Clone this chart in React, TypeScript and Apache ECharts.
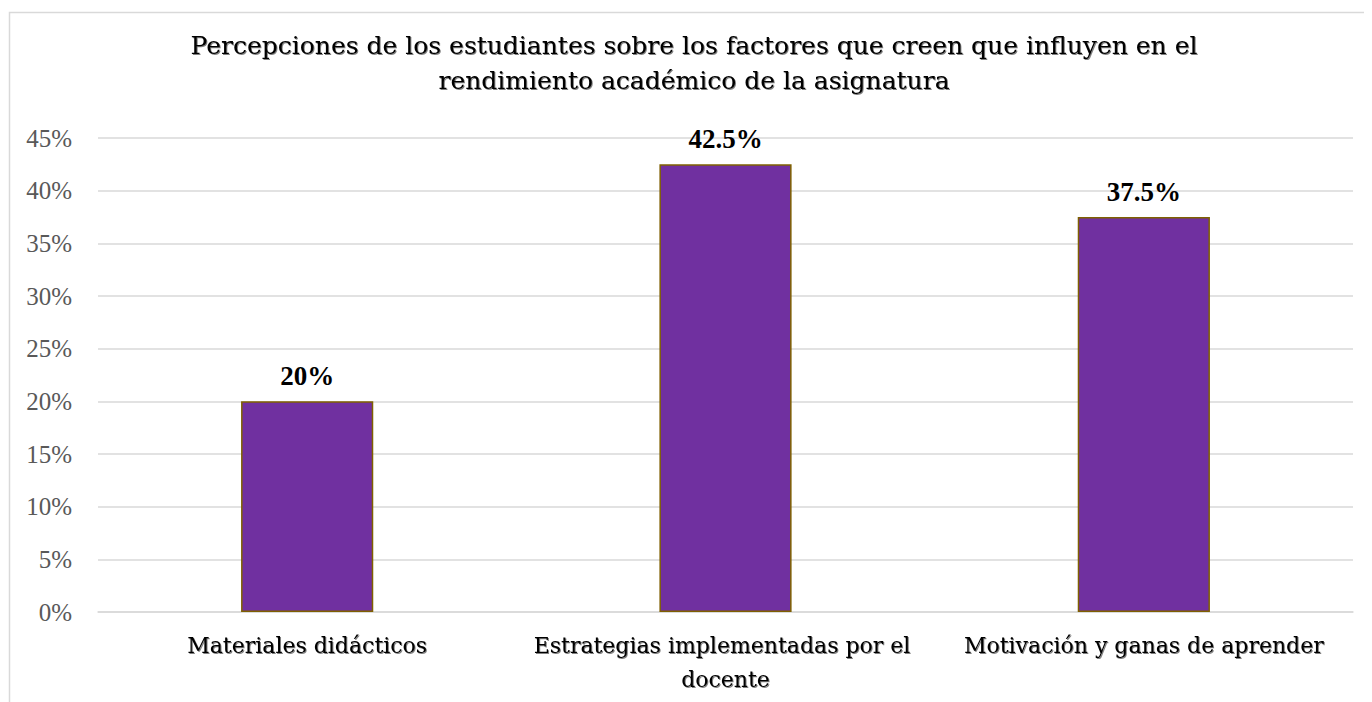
import React, { useEffect, useRef } from "react";
import * as echarts from "echarts";

const titleText =
  "Percepciones de los estudiantes sobre los factores que creen que influyen en el\nrendimiento académico de la asignatura";
const categories = [
  "Materiales didácticos",
  "Estrategias implementadas por el docente",
  "Motivación y ganas de aprender",
];
const values = [0.2, 0.425, 0.375];
const valueLabels = ["20%", "42.5%", "37.5%"];

const serif = "'Liberation Serif', 'Times New Roman', serif";
const wideSerif = "'DejaVu Serif', serif";
const shadow = {
  textShadowColor: "rgba(0,0,0,0.5)",
  textShadowBlur: 1,
  textShadowOffsetX: 1,
  textShadowOffsetY: 1,
};

export default function App() {
  const ref = useRef<HTMLDivElement>(null);
  useEffect(() => {
    if (!ref.current) return;
    const chart = echarts.init(ref.current, null, { renderer: "svg" });
    chart.setOption({
      animation: false,
      backgroundColor: "#ffffff",
      graphic: [
        {
          type: "rect",
          shape: { x: 1.5, y: 4.5, width: 1500, height: 900 },
          style: { fill: "none", stroke: "#d9d9d9", lineWidth: 1.5 },
          silent: true,
        },
      ],
      title: {
        text: titleText,
        left: "center",
        top: 15,
        textStyle: {
          fontFamily: wideSerif,
          fontSize: 25,
          fontWeight: "normal",
          color: "#000",
          lineHeight: 35,
          ...shadow,
        },
      },
      grid: { left: 90, right: 27, top: 130, bottom: 116, containLabel: false },
      xAxis: {
        type: "category",
        data: categories,
        axisTick: { show: false },
        axisLine: { lineStyle: { color: "#d9d9d9", width: 1.5 } },
        axisLabel: {
          interval: 0,
          margin: 16,
          fontFamily: wideSerif,
          fontSize: 22,
          color: "#000",
          lineHeight: 34,
          width: 395,
          overflow: "break",
          ...shadow,
        },
      },
      yAxis: {
        type: "value",
        min: 0,
        max: 0.45,
        interval: 0.05,
        axisLine: { show: false },
        axisTick: { show: false },
        splitLine: { lineStyle: { color: "#d9d9d9", width: 1.5 } },
        axisLabel: {
          margin: 26,
          fontFamily: serif,
          fontSize: 25,
          color: "#595959",
          formatter: (v: number) => `${Math.round(v * 100)}%`,
        },
      },
      series: [
        {
          type: "bar",
          data: values,
          barWidth: "31.6%",
          itemStyle: { color: "#7030A0", borderColor: "#7F6000", borderWidth: 1.5 },
          label: {
            show: true,
            position: "top",
            distance: 12,
            fontFamily: serif,
            fontSize: 27,
            fontWeight: "bold",
            color: "#000",
            formatter: (p: any) => valueLabels[p.dataIndex],
          },
        },
      ],
    });
    return () => chart.dispose();
  }, []);
  return <div ref={ref} style={{ width: 1372, height: 720 }} />;
}
